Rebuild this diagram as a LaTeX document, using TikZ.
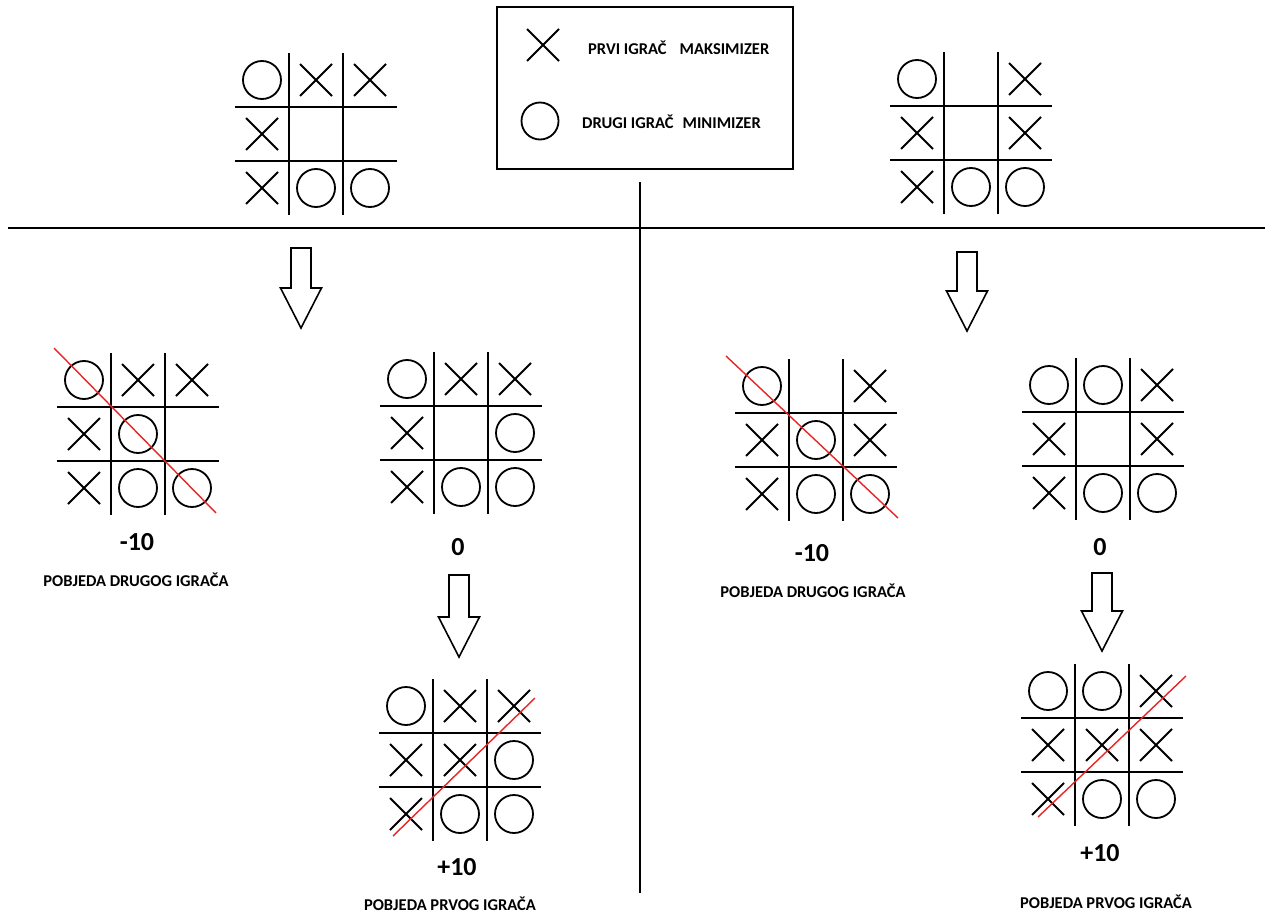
\documentclass[tikz,border=0pt]{standalone}
\usepackage{fontspec}
\setmainfont{Carlito}
\usepackage{tikz}
\definecolor{pobjeda}{RGB}{232, 36, 36}

\tikzset{
	mreza/.style={line width=2.2pt, black},
	znak/.style={line width=1.8pt, black},
	crta/.style={line width=1.4pt, pobjeda},
	strelica/.style={line width=1.6pt, black, line join=miter},
	ocjena/.style={font=\bfseries\fontsize{26}{26}\selectfont},
	opis/.style={font=\bfseries\fontsize{16.5}{17}\selectfont}
}

\newcommand{\iks}[2]{\draw[znak] (#1-16,#2-16) -- (#1+16,#2+16) (#1-16,#2+16) -- (#1+16,#2-16);}
\newcommand{\kruzic}[2]{\draw[znak] (#1,#2) circle (19pt);}
\newcommand{\prazno}[2]{}

% tabla: centar x, centar y, polja
\newcommand{\tabla}[3]{
	\draw[mreza] (#1-27,#2-81) -- (#1-27,#2+81) (#1+27,#2-81) -- (#1+27,#2+81)
		(#1-81,#2-27) -- (#1+81,#2-27) (#1-81,#2+27) -- (#1+81,#2+27);
	\foreach \p [count=\i from 0] in {#3} {
		\pgfmathtruncatemacro{\kolona}{mod(\i,3)}
		\pgfmathtruncatemacro{\redak}{\i/3}
		\pgfmathsetmacro{\px}{#1+(\kolona-1)*54}
		\pgfmathsetmacro{\py}{#2+(\redak-1)*54}
		\p{\px}{\py}
	}
}

% strelica: x, vrh, dno
\newcommand{\strelica}[3]{\draw[strelica] (#1-10,#2) -- (#1+10,#2) -- (#1+10,#3-40) -- (#1+20.5,#3-40)
	-- (#1,#3) -- (#1-20.5,#3-40) -- (#1-10,#3-40) -- cycle;}

\begin{document}
\begin{tikzpicture}[x=1pt, y=-1pt]
			\useasboundingbox (0,0) rectangle (1269,915);

			% legenda
			\draw[line width=2.2pt] (497,7) rectangle (793,169);
			\iks{543}{45}
			\draw[znak] (540,121) circle (18.5pt);
			\node[opis, anchor=west, inner sep=0] (prvi) at (588,48) {PRVI IGRAČ\hspace{13pt}MAKSIMIZER};
			\node[opis, anchor=west, inner sep=0] (drugi) at (582,122) {DRUGI IGRAČ\hspace{9pt}MINIMIZER};

			% podjela
			\draw[line width=2pt] (8,228) -- (1265,228);
			\draw[line width=1.8pt] (640,182) -- (640,893);

			% pocetne table
			\tabla{316}{134}{\kruzic,\iks,\iks,\iks,\prazno,\prazno,\iks,\kruzic,\kruzic}
			\tabla{971}{133}{\kruzic,\prazno,\iks,\iks,\prazno,\iks,\iks,\kruzic,\kruzic}

			% lijevo
			\tabla{138}{434}{\kruzic,\iks,\iks,\iks,\kruzic,\prazno,\iks,\kruzic,\kruzic}
			\draw[crta] (54,348) -- (216,513);
			\tabla{461}{433}{\kruzic,\iks,\iks,\iks,\prazno,\kruzic,\iks,\kruzic,\kruzic}
			\tabla{460}{760}{\kruzic,\iks,\iks,\iks,\iks,\kruzic,\iks,\kruzic,\kruzic}
			\draw[crta] (393,836) -- (535,698);

			% desno
			\tabla{816}{440}{\kruzic,\prazno,\iks,\iks,\kruzic,\iks,\iks,\kruzic,\kruzic}
			\draw[crta] (726,356) -- (898,518);
			\tabla{1103}{439}{\kruzic,\kruzic,\iks,\iks,\prazno,\iks,\iks,\kruzic,\kruzic}
			\tabla{1102}{745}{\kruzic,\kruzic,\iks,\iks,\iks,\iks,\iks,\kruzic,\kruzic}
			\draw[crta] (1038,817) -- (1186,676);

			% strelice
			\strelica{301}{248}{328}
			\strelica{967}{252}{331}
			\strelica{459}{575}{657}
			\strelica{1102}{573}{651}

			% ocjene
			\node[ocjena] (l1) at (137,542) {-10};
			\node[opis] (lo1) at (136,580) {POBJEDA DRUGOG IGRAČA};
			\node[ocjena] (l2) at (458,547) {0};
			\node[ocjena] (l3) at (457,867) {+10};
			\node[opis, inner sep=0] (lo3) at (450,904) {POBJEDA PRVOG IGRAČA};
			\node[ocjena] (d1) at (812,553) {-10};
			\node[opis] (do1) at (813,591) {POBJEDA DRUGOG IGRAČA};
			\node[ocjena] (d2) at (1100,547) {0};
			\node[ocjena] (d3) at (1100,853) {+10};
			\node[opis, inner sep=0] (do3) at (1106,902) {POBJEDA PRVOG IGRAČA};
		\end{tikzpicture}
\end{document}
